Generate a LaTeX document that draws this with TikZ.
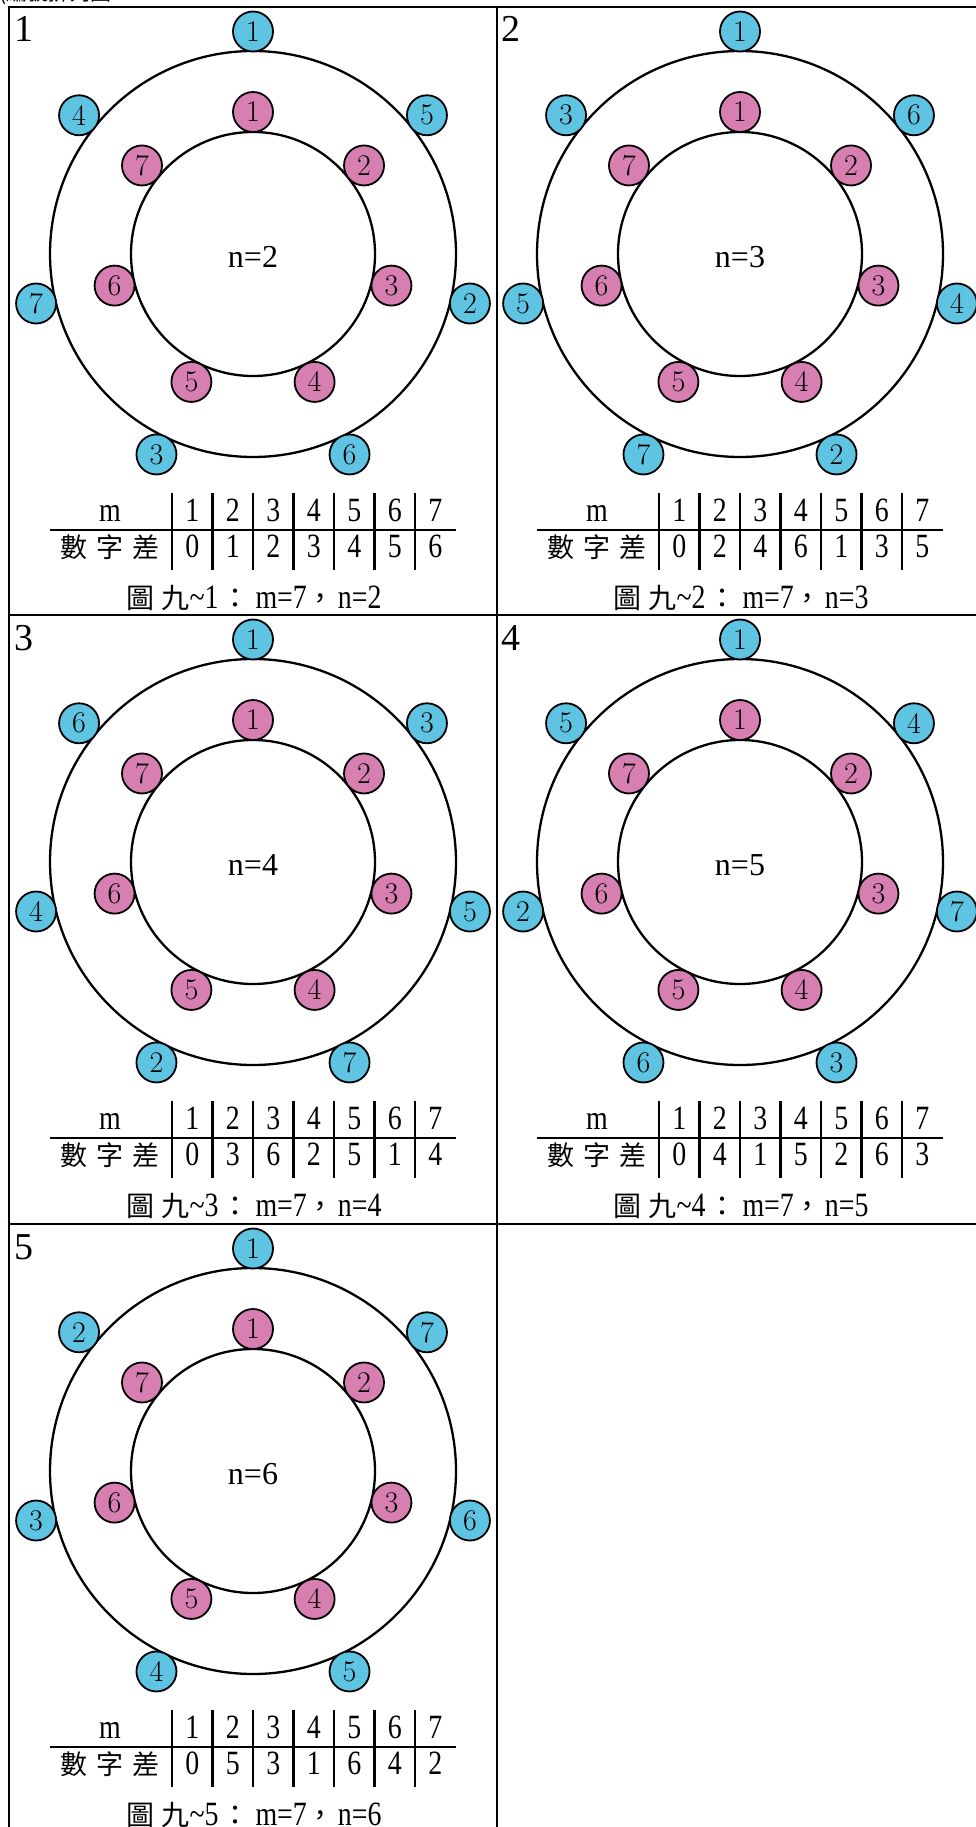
\documentclass[tikz,border=0pt]{standalone}
\usepackage{fontspec}
\newfontfamily\cjk{Noto Sans CJK TC}
\newfontfamily\nar{Liberation Serif}[FakeStretch=0.82]
\newfontfamily\ser{Liberation Serif}
\usetikzlibrary{calc}
\definecolor{cblue}{RGB}{94,196,226}
\definecolor{cpink}{RGB}{214,127,176}
\tikzset{
  gridline/.style={line width=2.8pt},
  ringline/.style={line width=2.3pt},
  tabline/.style={line width=2.6pt},
  seat/.style={circle, draw, line width=1.8pt, minimum size=40pt, inner sep=0pt, font=\fontsize{30}{30}\selectfont},
  bseat/.style={seat, fill=cblue},
  pseat/.style={seat, fill=cpink},
  tab/.style={inner sep=0pt, anchor=base, font=\nar\fontsize{34}{34}\selectfont},
  cjktab/.style={inner sep=0pt, anchor=base, font=\cjk\fontsize{27}{27}\selectfont},
  captxt/.style={inner sep=0pt, anchor=base, font=\nar\fontsize{34}{34}\selectfont},
  plabel/.style={inner sep=0pt, anchor=base, font=\ser\fontsize{38}{38}\selectfont},
  centertxt/.style={inner sep=0pt, anchor=base, font=\ser\fontsize{32}{32}\selectfont},
}
\newcommand\cjkc[1]{{\cjk\fontsize{28}{28}\selectfont #1}}
\newcommand\drawpanel[6]{%
  \coordinate (c#1) at (#2+244,#3+247);
  \draw[ringline] (c#1) circle[radius=203pt];
  \draw[ringline] (c#1) circle[radius=122pt];
  \node[centertxt] (n#1) at ($(c#1)+(0,13)$) {n=#4};
  \foreach \k in {0,...,6} {
    \pgfmathtruncatemacro\lab{\k+1}
    \node[pseat] (p#1-\k) at ($(c#1)+(-90+\k*360/7:142)$) {\lab};
  }
  \foreach \lab [count=\k from 0] in {#5} {
    \node[bseat] (b#1-\k) at ($(c#1)+(-90+\k*360/7:222.5)$) {\lab};
  }
  \foreach \dd in {-81,-40.5,0,40.5,81,121.5,162}
    \draw[tabline] ($(c#1)+(\dd,239)$) -- ($(c#1)+(\dd,316)$);
  \draw[tabline] ($(c#1)+(-203,276)$) -- ($(c#1)+(203,276)$);
  \node[tab] (m#1) at ($(c#1)+(-143,267)$) {m};
  \node[cjktab] (d#1) at ($(c#1)+(-143,303)$) {數\hspace{9pt}字\hspace{9pt}差};
  \foreach \v [count=\i from 0] in {1,...,7}
    \node[tab] (h#1-\i) at ($(c#1)+(-60.75+\i*40.5,267)$) {\v};
  \foreach \v [count=\i from 0] in {#6}
    \node[tab] (v#1-\i) at ($(c#1)+(-60.75+\i*40.5,303)$) {\v};
  \node[captxt] (cap#1) at ($(c#1)+(1,354)$) {\cjkc{圖\hspace{7pt}九}\textasciitilde#1\hspace{3pt}\cjkc{：}\hspace{6pt}m=7\cjkc{，}\hspace{3pt}n=#4};
  \node[plabel] (lab#1) at (#2+15,#3+35) {#1};
}
\begin{document}
\begin{tikzpicture}[x=1pt,y=-1pt]
  \useasboundingbox (0,0) rectangle (976,1827);
  \fill[white] (0,0) rectangle (976,1827);
  \node[anchor=base west, inner sep=0pt, font=\cjk\fontsize{21}{21}\selectfont] (topnote) at (-1,0.5) {(編號排列圖};
  \draw[gridline] (9,5.6) -- (9,1835);
  \draw[gridline] (497,5.6) -- (497,1835);
  \draw[gridline] (7.6,7) -- (985,7);
  \draw[gridline] (7.6,615) -- (985,615);
  \draw[gridline] (7.6,1224) -- (985,1224);
  \drawpanel{1}{9}{7}{2}{1,5,2,6,3,7,4}{0,1,2,3,4,5,6}
  \drawpanel{2}{496}{7}{3}{1,6,4,2,7,5,3}{0,2,4,6,1,3,5}
  \drawpanel{3}{9}{615}{4}{1,3,5,7,2,4,6}{0,3,6,2,5,1,4}
  \drawpanel{4}{496}{615}{5}{1,4,7,3,6,2,5}{0,4,1,5,2,6,3}
  \drawpanel{5}{9}{1224}{6}{1,7,6,5,4,3,2}{0,5,3,1,6,4,2}
\end{tikzpicture}
\end{document}
